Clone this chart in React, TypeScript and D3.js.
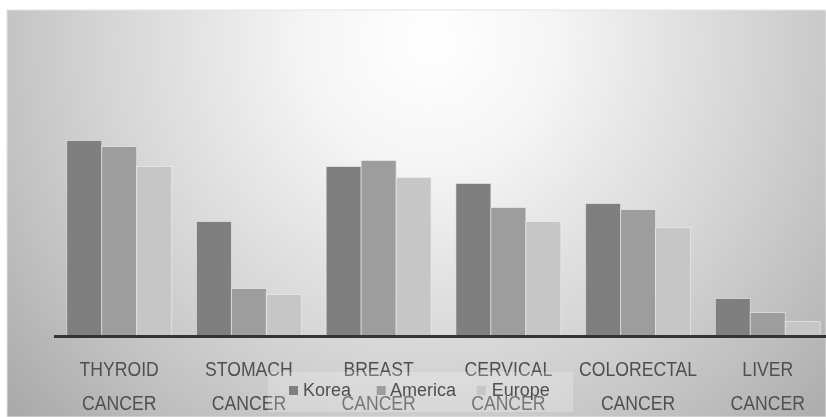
import React from "react";
import * as d3 from "d3";

const categories = ["THYROID", "STOMACH", "BREAST", "CERVICAL", "COLORECTAL", "LIVER"];
const seriesNames = ["Korea", "America", "Europe"];
const korea = [196, 115, 170, 153, 133, 38];
const america = [190, 48, 176, 129, 127, 24];
const europe = [170, 42, 159, 115, 109, 15];
const seriesValues = [korea, america, europe];
const seriesColors = ["#7f7f7f", "#9d9d9d", "#c6c6c6"];

const W = 826;
const H = 417;

export default function App() {
  const x = d3.scaleBand<string>().domain(categories).range([54, 833]).paddingInner(0.191).paddingOuter(0.098);
  const xi = d3.scaleBand<string>().domain(seriesNames).range([0, x.bandwidth()]).padding(0);
  const y = d3.scaleLinear().domain([0, 300]).range([336.5, 36.5]);
  const font = "'Liberation Sans', Arial, sans-serif";
  const legendOffsets = [0, 87.7, 187.7];
  const legendTextDx = [14, 13.3, 15];

  return (
    <svg width={W} height={H} style={{ position: "absolute", left: 0, top: 0 }}>
      <defs>
        <radialGradient id="bg" gradientUnits="userSpaceOnUse" cx={430} cy={40} r={560}>
          <stop offset="0" stopColor="#ffffff" />
          <stop offset="0.22" stopColor="#f5f5f5" />
          <stop offset="0.6" stopColor="#d3d3d3" />
          <stop offset="0.8" stopColor="#bfbfbf" />
          <stop offset="1" stopColor="#a9a9a9" />
        </radialGradient>
        <filter id="soft" x="-5%" y="-5%" width="110%" height="110%">
          <feGaussianBlur stdDeviation="0.45" />
        </filter>
      </defs>
      <rect x={0} y={0} width={W} height={H} fill="#ffffff" />
      <rect x={7} y={10} width={W - 7} height={H - 10} fill="url(#bg)" stroke="#e4e4e4" strokeWidth={1} />
      <g>
        {categories.map((c, ci) =>
          seriesNames.map((s, si) => (
            <rect
              key={c + s}
              x={(x(c) as number) + (xi(s) as number)}
              y={y(seriesValues[si][ci])}
              width={xi.bandwidth()}
              height={y(0) - y(seriesValues[si][ci])}
              fill={seriesColors[si]}
              stroke="#f4f4f4"
              strokeOpacity={0.55}
              strokeWidth={1}
            />
          ))
        )}
      </g>
      <line x1={54} x2={W} y1={y(0)} y2={y(0)} stroke="#343434" strokeWidth={3} />
      <g filter="url(#soft)" fontFamily={font} fill="#505050" textAnchor="middle">
        {categories.map((c) => (
          <g key={c} transform={`translate(${(x(c) as number) + x.bandwidth() / 2},0) scale(0.86,1)`}>
            <text y={376.5} fontSize={20.5}>{c}</text>
            <text y={410} fontSize={20.5}>CANCER</text>
          </g>
        ))}
      </g>
      <rect x={268} y={372} width={305} height={40} fill="#ffffff" fillOpacity={0.22} />
      <g filter="url(#soft)" fontFamily={font} fontSize={18}>
        {seriesNames.map((s, si) => (
          <g key={s} transform={`translate(${289 + legendOffsets[si]},0)`}>
            <rect x={0} y={386} width={9} height={9} fill={seriesColors[si]} />
            <text x={legendTextDx[si]} y={396} fill="#505050">{s}</text>
          </g>
        ))}
      </g>
    </svg>
  );
}
